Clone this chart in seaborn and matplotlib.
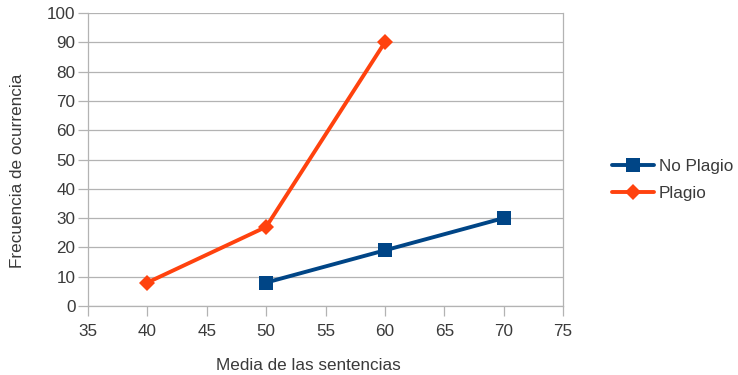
import matplotlib
matplotlib.use("Agg")
import matplotlib.pyplot as plt
from matplotlib.lines import Line2D
import seaborn as sns
import pandas as pd

# Series data
media_no_plagio = [50, 60, 70]
freq_no_plagio = [8, 19, 30]
media_plagio = [40, 50, 60]
freq_plagio = [8, 27, 90]
series_names = ["No Plagio", "Plagio"]
x_ticks = [35, 40, 45, 50, 55, 60, 65, 70, 75]
y_ticks = [0, 10, 20, 30, 40, 50, 60, 70, 80, 90, 100]

df = pd.DataFrame({
    "Media de las sentencias": media_no_plagio + media_plagio,
    "Frecuencia de ocurrencia": freq_no_plagio + freq_plagio,
    "Serie": [series_names[0]] * len(media_no_plagio) + [series_names[1]] * len(media_plagio),
})

sns.set_theme(style="white")
plt.rcParams["font.family"] = ["Liberation Sans", "DejaVu Sans"]

FS = 12.3
TXT = "#3a3a3a"
GRID = "#b3b3b3"

fig = plt.figure(figsize=(7.38, 3.75), dpi=100)
ax = fig.add_axes([88 / 738, 69 / 375, (563 - 88) / 738, (306 - 13) / 375])

palette = {"No Plagio": "#004586", "Plagio": "#ff420e"}
markers = {"No Plagio": "s", "Plagio": "D"}
msize = {"No Plagio": 9.5, "Plagio": 8}
sns.lineplot(data=df, x="Media de las sentencias", y="Frecuencia de ocurrencia",
             hue="Serie", style="Serie", palette=palette, markers=markers,
             dashes=False, linewidth=2.8, markersize=9, markeredgewidth=0,
             ax=ax, legend=False, zorder=3)
for line in ax.get_lines():
    for name, col in palette.items():
        if line.get_color() == col:
            line.set_markersize(msize[name])

ax.set_xlim(35, 75)
ax.set_ylim(0, 100)
ax.set_xticks(x_ticks)
ax.set_yticks(y_ticks)
ax.yaxis.grid(True, color=GRID, linewidth=0.9)
ax.xaxis.grid(False)
ax.set_axisbelow(True)
for side in ["left", "bottom", "right"]:
    ax.spines[side].set_visible(True)
    ax.spines[side].set_color(GRID)
    ax.spines[side].set_linewidth(0.9)
ax.spines["top"].set_visible(False)
ax.tick_params(axis="both", which="both", length=7, width=0.9, color=GRID,
               labelsize=FS, labelcolor=TXT, direction="out",
               bottom=True, left=True)
ax.tick_params(axis="x", pad=6)
ax.tick_params(axis="y", pad=2)

ax.set_xlabel("Media de las sentencias", fontsize=FS, color=TXT, labelpad=14, x=0.465)
ax.set_ylabel("Frecuencia de ocurrencia", fontsize=FS, color=TXT, labelpad=16, y=0.46)

handles = [
    Line2D([], [], color=palette[n], marker=markers[n], linewidth=2.8,
           markersize=msize[n], markeredgewidth=0)
    for n in series_names
]
leg = fig.legend(handles, series_names, loc="center left",
                 bbox_to_anchor=(603 / 738, 1 - 180 / 375),
                 frameon=False, fontsize=FS, handlelength=2.5, handletextpad=0.25,
                 labelspacing=0.65, borderpad=0)
for t in leg.get_texts():
    t.set_color(TXT)

fig.savefig("out.png", dpi=100)
